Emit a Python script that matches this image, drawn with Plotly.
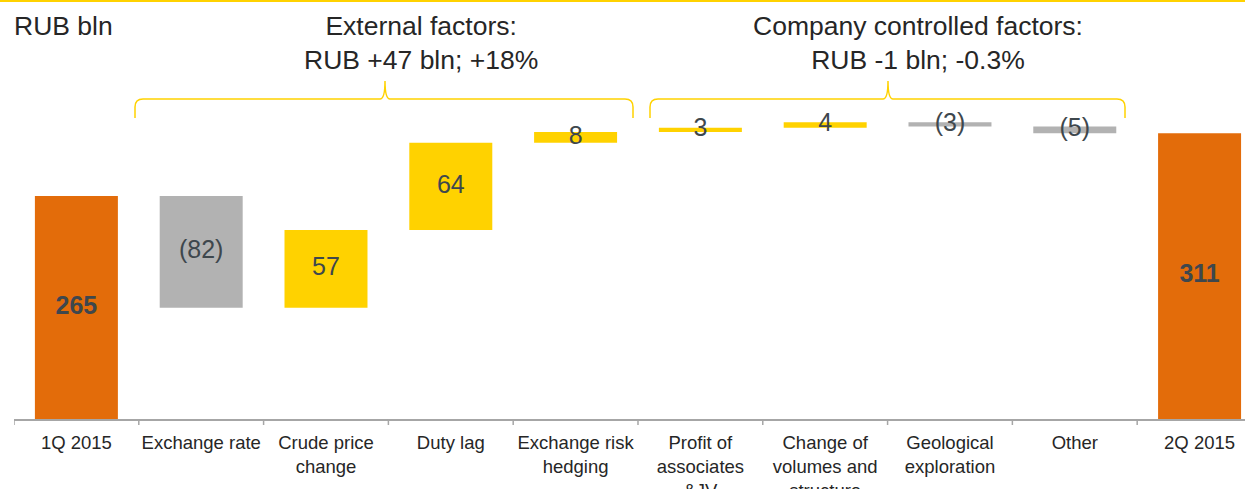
import plotly.graph_objects as go

# ---- data ----
categories = ["1Q 2015", "Exchange rate", "Crude price<br>change", "Duty lag",
              "Exchange risk<br>hedging", "Profit of<br>associates<br>&JV",
              "Change of<br>volumes and<br>structure", "Geological<br>exploration",
              "Other", "2Q 2015"]
values = [265, -82, 57, 64, 8, 3, 4, -3, -5, 311]
measures = ["total", "relative", "relative", "relative", "relative",
            "relative", "relative", "relative", "relative", "total"]
group_titles = ["External factors:<br>RUB +47 bln; +18%",
                "Company controlled factors:<br>RUB -1 bln; -0.3%"]
unit_label = "RUB bln"

# ---- style ----
ORANGE = "#E36C0A"
YELLOW = "#FFD200"
GREY = "#B2B2B2"
LABEL_C = "#3E474D"
TEXT_C = "#262626"
FONT = "Liberation Sans, Arial, sans-serif"

W, H = 1245, 489
ML, MR, MT, MB = 14, 0, 0, 70
PW, PH = W - ML - MR, H - MT - MB
Y0, Y1 = 101.5, 408.7
X0, X1 = -0.5, 9.364

xs = list(range(len(categories)))
bases, heights, colors, mids, labels = [], [], [], [], []
running = 0
for v, m in zip(values, measures):
    if m == "total":
        bases.append(0)
        heights.append(v)
        colors.append(ORANGE)
        mids.append((Y0 + v) / 2)
        labels.append("<b>%d</b>" % v)
        running = v
    else:
        start = running
        end = running + v
        bases.append(min(start, end))
        heights.append(abs(v))
        colors.append(YELLOW if v > 0 else GREY)
        mids.append((start + end) / 2)
        labels.append(str(v) if v > 0 else "(%d)" % abs(v))
        running = end

fig = go.Figure()
fig.add_trace(go.Bar(x=xs, y=heights, base=bases, marker=dict(color=colors, line=dict(width=0)),
                     width=0.665, hoverinfo="skip", showlegend=False))
fig.add_trace(go.Scatter(x=xs, y=mids, mode="text", text=labels,
                         textfont=dict(size=25, color=LABEL_C, family=FONT),
                         hoverinfo="skip", showlegend=False, cliponaxis=False))


def px(xp):
    return (xp - ML) / PW


def py(yp):
    return (MT + PH - yp) / PH


def brace(x0, xc, x1, ytop, ymid, ybot):
    r = 8
    return ("M {a},{b} L {a},{c} Q {a},{d} {e},{d} L {f},{d} Q {g},{d} {g},{h} "
            "Q {g},{d} {i},{d} L {j},{d} Q {k},{d} {k},{c} L {k},{b}").format(
        a=px(x0), b=py(ybot), c=py(ymid + r), d=py(ymid), e=px(x0 + r),
        f=px(xc - 5), g=px(xc), h=py(ytop), i=px(xc + 5), j=px(x1 - r), k=px(x1))


shapes = [
    dict(type="line", xref="paper", yref="paper", x0=px(0), x1=px(W), y0=py(1), y1=py(1),
         line=dict(color=YELLOW, width=2)),
    dict(type="path", xref="paper", yref="paper", path=brace(135, 385, 633, 81, 99, 118),
         line=dict(color=YELLOW, width=1.5)),
    dict(type="path", xref="paper", yref="paper", path=brace(650, 888, 1125, 81, 99, 118),
         line=dict(color=YELLOW, width=1.5)),
]
# ticks on category boundaries
for b in [i - 0.5 for i in range(len(categories) + 1)]:
    shapes.append(dict(type="line", xref="x", yref="paper", x0=b, x1=b, y0=0, y1=-6 / PH,
                       line=dict(color="#A6A6A6", width=1.5)))

annotations = [
    dict(xref="paper", yref="paper", x=px(12), y=py(26), text=unit_label, showarrow=False,
         xanchor="left", yanchor="middle", font=dict(size=26.5, color=TEXT_C, family=FONT)),
    dict(xref="paper", yref="paper", x=px(421), y=py(43), text=group_titles[0], showarrow=False,
         xanchor="center", yanchor="middle", font=dict(size=26.5, color=TEXT_C, family=FONT)),
    dict(xref="paper", yref="paper", x=px(918), y=py(43), text=group_titles[1], showarrow=False,
         xanchor="center", yanchor="middle", font=dict(size=26.5, color=TEXT_C, family=FONT)),
]

fig.update_layout(
    width=W, height=H, margin=dict(l=ML, r=MR, t=MT, b=MB, autoexpand=False),
    paper_bgcolor="white", plot_bgcolor="white",
    shapes=shapes, annotations=annotations, showlegend=False,
    xaxis=dict(type="linear", tickmode="array", tickvals=xs, ticktext=categories, range=[X0, X1],
               showgrid=False, zeroline=False, showline=True, linecolor="#A6A6A6", linewidth=2,
               ticks="", automargin=False,
               tickfont=dict(size=18.5, color=TEXT_C, family=FONT), ticklabelstandoff=6),
    yaxis=dict(range=[Y0, Y1], visible=False, fixedrange=True, automargin=False),
)

fig.write_html("out.html", config={"displayModeBar": False},
               post_script="document.body.style.margin='0';document.body.style.overflow='hidden';")
